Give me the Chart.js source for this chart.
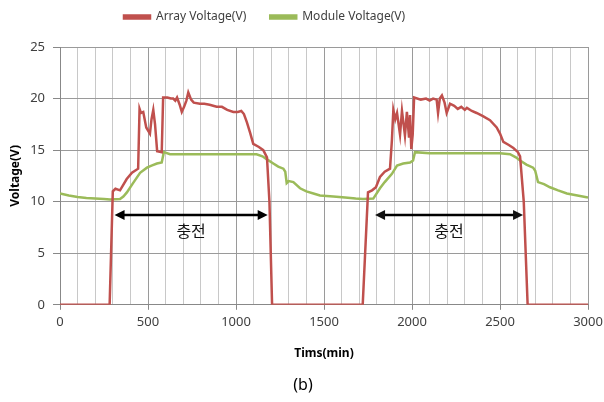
<!DOCTYPE html>
<html>
<head>
<meta charset="utf-8">
<script src="https://cdn.jsdelivr.net/npm/chart.js@4"></script>
<style>
  html, body { margin: 0; padding: 0; background: #fff; }
  #wrap { width: 604px; height: 402px; }
</style>
</head>
<body>
<div id="wrap"><canvas id="voltChart" width="604" height="402"></canvas></div>
<script>
// Array voltage (red)
const arrayTime = [0, 282, 300, 315, 341, 379, 409, 444, 452, 460, 473, 490, 511, 520, 530, 540, 552, 578, 586,
    610, 630, 643, 655, 665, 680, 692, 705, 718, 729, 745, 760, 795, 820, 850, 890, 920, 950, 985, 1010,
    1030, 1045, 1062, 1080, 1098, 1130, 1155, 1176, 1190, 1205, 1720, 1750, 1773, 1795, 1818, 1845, 1875, 1886, 1894, 1905,
    1915, 1932, 1943, 1960, 1971, 1983, 1989, 1996, 2004, 2012, 2050, 2080, 2100, 2120, 2140, 2148, 2158, 2170, 2185, 2197,
    2216, 2240, 2260, 2280, 2300, 2312, 2340, 2367, 2403, 2443, 2481, 2500, 2519, 2550, 2576, 2602, 2614, 2635, 2657, 3000];
const arrayVolt = [0, 0, 11.0, 11.25, 11.1, 12.2, 12.8, 13.2, 19.0, 18.6, 18.7, 17.2, 16.6, 18.0, 18.9, 17.5, 14.9, 14.8, 20.1,
    20.1, 20.0, 20.0, 19.8, 20.1, 19.4, 18.7, 19.2, 19.8, 20.6, 19.9, 19.6, 19.5, 19.5, 19.4, 19.2, 19.2, 18.9, 18.7, 18.7,
    18.8, 18.5, 17.7, 16.7, 15.6, 15.3, 15.0, 14.3, 10.0, 0, 0, 10.9, 11.1, 11.4, 12.4, 12.9, 13.2, 16.0, 18.9, 18.0,
    18.6, 16.5, 18.8, 16.4, 18.7, 16.2, 18.4, 15.1, 16.5, 20.1, 19.9, 20.0, 19.8, 20.0, 19.9, 18.6, 20.0, 20.3, 19.6, 18.6,
    19.5, 19.3, 19.0, 19.2, 18.9, 19.1, 18.8, 18.6, 18.3, 17.9, 17.2, 16.6, 15.8, 15.5, 15.2, 14.8, 14.4, 10.0, 0, 0];

// Module voltage (green)
const moduleTime = [0, 50, 100, 150, 200, 250, 284, 341, 360, 380, 415, 455, 494, 520, 551, 578, 590, 625, 700, 800,
    900, 1000, 1117, 1150, 1176, 1212, 1240, 1269, 1280, 1288, 1300, 1326, 1364, 1400, 1440, 1477, 1553, 1620, 1680, 1722,
    1780, 1818, 1845, 1886, 1915, 1950, 1989, 2006, 2017, 2100, 2200, 2300, 2400, 2500, 2557, 2590, 2614, 2650, 2688, 2700,
    2716, 2750, 2784, 2830, 2880, 2940, 3000];
const moduleVolt = [10.8, 10.6, 10.45, 10.35, 10.3, 10.25, 10.2, 10.25, 10.5, 10.9, 11.8, 12.8, 13.3, 13.5, 13.7, 13.8, 14.8, 14.6, 14.6, 14.6,
    14.6, 14.6, 14.6, 14.4, 14.1, 13.7, 13.4, 13.2, 12.9, 11.8, 12.0, 11.9, 11.3, 11.0, 10.8, 10.6, 10.5, 10.4, 10.3, 10.25,
    10.3, 11.3, 11.9, 12.7, 13.5, 13.7, 13.8, 14.0, 14.8, 14.7, 14.7, 14.7, 14.7, 14.7, 14.6, 14.3, 14.0, 13.6, 13.3, 13.0,
    11.9, 11.7, 11.4, 11.1, 10.8, 10.6, 10.4];

// charging spans marked with double arrows
const chargeStart = [310, 1790];
const chargeEnd = [1180, 2631];
const chargeLevel = 8.7;
const chargeLabel = '충전';
const chargeLabelLevel = 7.2;

const yTicks = [0, 5, 10, 15, 20, 25];

function toPoints(xs, ys) {
    return xs.map((x, i) => ({ x: x, y: ys[i] }));
}

// wrap a layout box's draw so it is painted a few px off its slot
function nudge(box, dx, dy) {
    const draw = box.draw;
    box.draw = function() {
        const c = this.ctx;
        c.save();
        c.translate(dx, dy);
        draw.apply(this, arguments);
        c.restore();
    };
}

// legend sits left of centre, close to the top edge, like the excel original
const boxShift = {
    id: 'boxShift',
    afterInit(chart) {
        const legend = chart.legend;
        const fit = legend.fit;
        legend.fit = function() {
            fit.call(this);
            this.height += 1;
        };
        nudge(legend, 100, -13);
        nudge(chart.titleBlock, 9, 0);
    }
};

const arrowPlugin = {
    id: 'chargeArrows',
    afterDatasetsDraw(chart) {
        const ctx = chart.ctx;
        const xs = chart.scales.x;
        const ys = chart.scales.y;
        const y = ys.getPixelForValue(chargeLevel);
        const ly = ys.getPixelForValue(chargeLabelLevel);
        ctx.save();
        ctx.strokeStyle = '#000';
        ctx.fillStyle = '#000';
        ctx.lineWidth = 2.5;
        chargeStart.forEach((s, i) => {
            const x1 = xs.getPixelForValue(s);
            const x2 = xs.getPixelForValue(chargeEnd[i]);
            ctx.beginPath();
            ctx.moveTo(x1 + 6, y);
            ctx.lineTo(x2 - 6, y);
            ctx.stroke();
            ctx.beginPath();
            ctx.moveTo(x1, y);
            ctx.lineTo(x1 + 10, y - 5);
            ctx.lineTo(x1 + 10, y + 5);
            ctx.closePath();
            ctx.fill();
            ctx.beginPath();
            ctx.moveTo(x2, y);
            ctx.lineTo(x2 - 10, y - 5);
            ctx.lineTo(x2 - 10, y + 5);
            ctx.closePath();
            ctx.fill();
            ctx.font = '16px "Noto Sans CJK KR"';
            ctx.textAlign = 'center';
            ctx.textBaseline = 'middle';
            ctx.fillStyle = '#111';
            ctx.fillText(chargeLabel, (x1 + x2) / 2, ly);
        });
        ctx.restore();
    }
};

const ctx = document.getElementById('voltChart').getContext('2d');
new Chart(ctx, {
    type: 'line',
    data: {
        datasets: [{
            label: 'Array Voltage(V)',
            data: toPoints(arrayTime, arrayVolt),
            borderColor: '#c0504d',
            backgroundColor: '#c0504d',
            borderWidth: 2.5,
            pointRadius: 0,
            tension: 0
        }, {
            label: 'Module Voltage(V)',
            data: toPoints(moduleTime, moduleVolt),
            borderColor: '#9bbb59',
            backgroundColor: '#9bbb59',
            borderWidth: 2.5,
            pointRadius: 0,
            tension: 0
        }]
    },
    options: {
        responsive: false,
        animation: false,
        layout: {
            padding: { left: 0, right: 16, top: 0, bottom: 0 }
        },
        plugins: {
            legend: {
                position: 'top',
                align: 'start',
                labels: {
                    boxWidth: 26,
                    boxHeight: 3,
                    padding: 24,
                    color: '#404040',
                    font: { family: '"Noto Sans", sans-serif', size: 12 }
                }
            },
            title: {
                display: true,
                position: 'bottom',
                text: '(b)',
                color: '#000',
                font: { family: '"Noto Sans", sans-serif', size: 16, weight: 'normal' },
                padding: { top: 0, bottom: 7 }
            },
            tooltip: { enabled: false }
        },
        scales: {
            x: {
                type: 'linear',
                min: 0,
                max: 3000,
                afterFit(scale) {
                    scale.height = 71;
                    scale.paddingRight = 0;
                },
                border: { color: '#888' },
                grid: {
                    color: c => (c.tick && c.tick.value % 500 === 0) ? '#9a9a9a' : '#c8c8c8',
                    tickColor: c => (c.tick && c.tick.value % 500 === 0) ? '#888' : 'rgba(0,0,0,0)',
                    tickLength: 5
                },
                ticks: {
                    stepSize: 100,
                    autoSkip: false,
                    maxRotation: 0,
                    padding: 5,
                    color: '#404040',
                    font: { family: '"Noto Sans", sans-serif', size: 13 },
                    callback: v => (v % 500 === 0 ? String(v) : '')
                },
                title: {
                    display: true,
                    text: 'Tims(min)',
                    color: '#000',
                    font: { family: '"Noto Sans", sans-serif', size: 12, weight: 'bold' },
                    padding: { top: 4, bottom: 15 }
                }
            },
            y: {
                min: 0,
                max: 25,
                afterFit(scale) { scale.width = 60; },
                afterBuildTicks(scale) { scale.ticks = yTicks.map(v => ({ value: v })); },
                border: { color: '#888' },
                grid: {
                    color: '#9a9a9a',
                    tickColor: '#888',
                    tickLength: 7
                },
                ticks: {
                    padding: 8,
                    color: '#404040',
                    font: { family: '"Noto Sans", sans-serif', size: 13 }
                },
                title: {
                    display: true,
                    text: 'Voltage(V)',
                    color: '#000',
                    font: { family: '"Noto Sans", sans-serif', size: 12, weight: 'bold' },
                    padding: { top: 8, bottom: 0 }
                }
            }
        }
    },
    plugins: [boxShift, arrowPlugin]
});
</script>
</body>
</html>
